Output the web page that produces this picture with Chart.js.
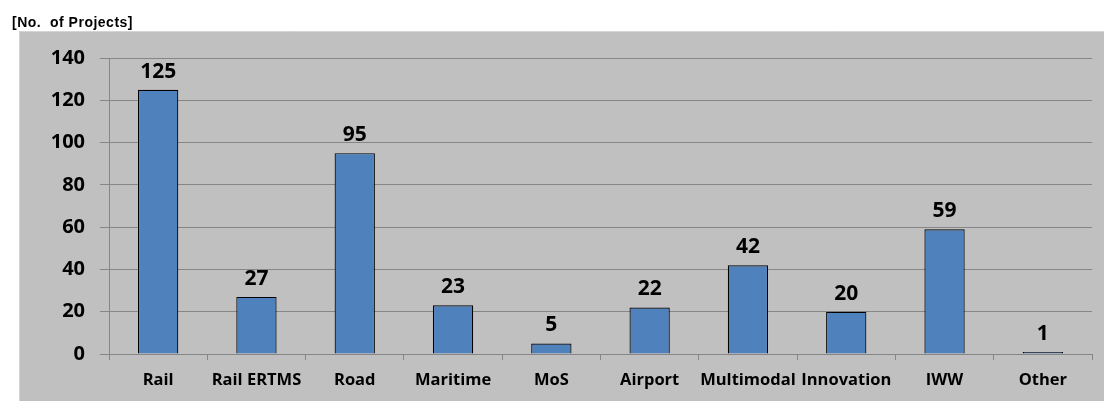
<!DOCTYPE html>
<html>
<head>
<meta charset="utf-8">
<title>No. of Projects by mode</title>
<script src="https://cdn.jsdelivr.net/npm/chart.js@4.4.1/dist/chart.umd.min.js"></script>
<style>
  html, body { margin: 0; padding: 0; background: #ffffff; }
  #wrap { width: 1104px; height: 401px; position: relative; }
  canvas { display: block; }
</style>
</head>
<body>
<div id="wrap"><canvas id="chart" width="1104" height="401"></canvas></div>
<script>
// Transport modes and the number of projects in each
const categories = ['Rail', 'Rail ERTMS', 'Road', 'Maritime', 'MoS', 'Airport', 'Multimodal', 'Innovation', 'IWW', 'Other'];
const projectCounts = [125, 27, 95, 23, 5, 22, 42, 20, 59, 1];
const yTicks = [0, 20, 40, 60, 80, 100, 120, 140];
const unitLabel = '[No.  of Projects]';

const FONT = "'Open Sans', 'Noto Sans', sans-serif";
const GRID = '#868686';

// Grey panel behind the chart plus the unit caption above it
const panelPlugin = {
  id: 'panel',
  beforeDraw(chart) {
    const ctx = chart.ctx;
    ctx.save();
    ctx.fillStyle = '#c0c0c0';
    ctx.fillRect(19, 31, chart.width - 19, chart.height - 31);
    ctx.strokeStyle = '#d4d4d4';
    ctx.lineWidth = 1;
    ctx.beginPath();
    ctx.moveTo(19.5, chart.height);
    ctx.lineTo(19.5, 31.5);
    ctx.lineTo(chart.width, 31.5);
    ctx.stroke();
    ctx.fillStyle = '#000000';
    ctx.font = "bold 14px 'Liberation Sans', Arial, sans-serif";
    if ('letterSpacing' in ctx) ctx.letterSpacing = '0.5px';
    ctx.textBaseline = 'alphabetic';
    ctx.textAlign = 'left';
    ctx.fillText(unitLabel, 12, 27);
    ctx.restore();
  }
};

// Value written above each bar
const valueLabels = {
  id: 'valueLabels',
  afterDatasetsDraw(chart) {
    const ctx = chart.ctx;
    const meta = chart.getDatasetMeta(0);
    const data = chart.data.datasets[0].data;
    ctx.save();
    ctx.fillStyle = '#000000';
    ctx.font = 'bold 21px ' + FONT;
    ctx.textAlign = 'center';
    ctx.textBaseline = 'alphabetic';
    meta.data.forEach((bar, i) => {
      ctx.fillText(String(data[i]), bar.x, bar.y - 12);
    });
    ctx.restore();
  }
};

new Chart(document.getElementById('chart'), {
  type: 'bar',
  data: {
    labels: categories,
    datasets: [{
      data: projectCounts,
      backgroundColor: '#4f81bd',
      borderColor: '#000000',
      borderWidth: 1.2,
      barPercentage: 0.41,
      categoryPercentage: 1.0
    }]
  },
  options: {
    responsive: false,
    animation: false,
    devicePixelRatio: 1,
    layout: { padding: { left: 0, top: 58, right: 12, bottom: 0 } },
    plugins: {
      legend: { display: false },
      tooltip: { enabled: false },
      title: { display: false }
    },
    scales: {
      x: {
        grid: {
          display: true,
          drawOnChartArea: false,
          drawTicks: true,
          tickLength: 6,
          offset: true,
          color: GRID
        },
        border: { display: true, color: GRID, width: 1 },
        ticks: {
          color: '#000000',
          font: { family: FONT, size: 16.5, weight: 'bold' },
          padding: 10,
          maxRotation: 0,
          autoSkip: false
        },
        afterFit(scale) { scale.height = 47; }
      },
      y: {
        min: 0,
        max: 140,
        afterBuildTicks(scale) { scale.ticks = yTicks.map(v => ({ value: v })); },
        grid: {
          color: GRID,
          lineWidth: 1,
          drawTicks: true,
          tickLength: 9
        },
        border: { display: true, color: GRID, width: 1 },
        ticks: {
          color: '#000000',
          font: { family: FONT, size: 20, weight: 'bold' },
          padding: 15
        },
        afterFit(scale) { scale.width = 109; }
      }
    }
  },
  plugins: [panelPlugin, valueLabels]
});
</script>
</body>
</html>
